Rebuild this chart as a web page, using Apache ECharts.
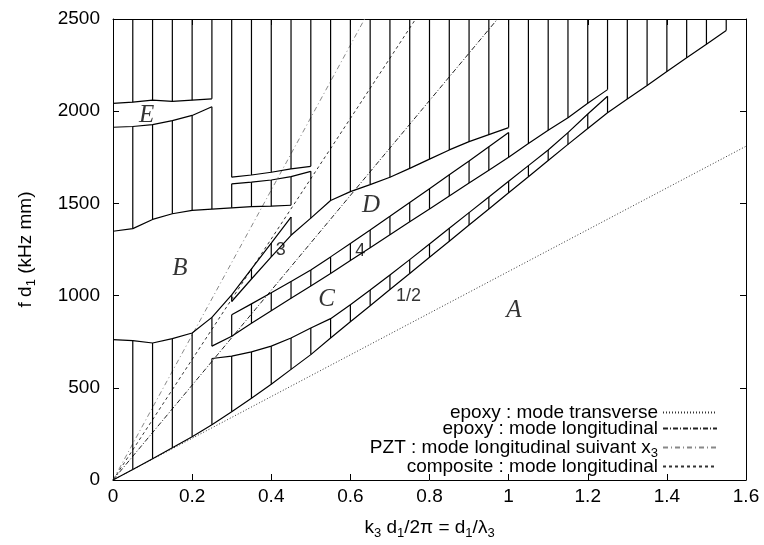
<!DOCTYPE html>
<html><head><meta charset="utf-8">
<script src="https://cdn.jsdelivr.net/npm/echarts@6/dist/echarts.min.js"></script>
<style>html,body{margin:0;padding:0;background:#fff}#c{width:764px;height:545px}</style>
</head><body><div id="c"></div>
<script>
// ---------- data ----------
const STEP = 0.05;          // spacing of the computed points along each boundary
const TOP = 2500;           // y-axis maximum
const xTicks = [0, 0.2, 0.4, 0.6, 0.8, 1, 1.2, 1.4, 1.6];
const yTicks = [0, 500, 1000, 1500, 2000, 2500];

// band boundaries: first x, then y values every 0.05
const L0 = {x0: 0,    y: [0,57,115,175,235,300,370,443,519,600,680,770,858,945,1033,1120,1208,1295,1383,1470,1558,1645,1733,1820,1906,1992,2066,2140,2215,2290,2363,2437]};
const Cb = {x0: 0.25, y: [659,672,695,726,770,824,875,950,1030,1112,1195,1280,1365,1450,1535,1620,1705,1790,1884,1985,2081]};
const Ct = {x0: 0.25, y: [726,780,850,918,985,1052,1120,1190,1260,1330,1400,1470,1540,1610,1680,1750,1825,1897,1965,2043,2117]};
const Db = {x0: 0.3,  y: [896,955,1015,1077,1139,1210,1283,1356,1430,1505,1580,1655,1730,1807,1884]};
const Dt = {x0: 0.3,  y: [968,1090,1210,1327,1420,1516,1564,1602,1642,1690,1740,1790,1835,1873,1911]};
const St = {x0: 0.25, y: [882,1004,1145,1285,1426]};
const Bb = {x0: 0,    y: [761,756,743,767,797,882]};
const Bt = {x0: 0,    y: [1349,1363,1413,1444,1462,1469,1476,1482,1485,1490]};
const Eb = {x0: 0,    y: [1913,1917,1927,1949,1977,2024]};
const Et = {x0: 0,    y: [2042,2049,2060,2053,2060,2067]};
const Gb = {x0: 0.3,  y: [1606,1615,1627,1645,1674]};
const Gt = {x0: 0.3,  y: [1642,1654,1669,1687,1701]};

// hatched (stop) bands: lower boundary, upper boundary, first and last hatch x
const bands = [
  ['L0','Bb',0,0.2], ['L0','Cb',0.25,1.25], ['Ct','St',0.25,0.25], ['Ct','Db',0.3,1.0],
  ['Dt','St',0.3,0.45], ['Bt','Eb',0,0.25], ['Et','TOP',0,0.25], ['Bt','Gb',0.3,0.45],
  ['Gt','TOP',0.3,0.5], ['Dt','Gb',0.5,0.5], ['Dt','TOP',0.55,1.0], ['Ct','TOP',1.05,1.25],
  ['L0','TOP',1.3,1.55]
];

// straight reference lines (from origin)
const epoxyT = [[0,0],[1.6,1810]];
const epoxyL = [[0,0],[0.972,2500]];
const pztL   = [[0,0],[0.636,2500]];
const compL  = [[0,0],[0.765,2500]];

// region letters and band numbers
const letters = [['E',0.085,1977],['B',0.169,1148],['C',0.540,977],['D',0.652,1487],['A',1.013,921]];
const numbers = [['3',0.424,1245],['4',0.625,1242],['1/2',0.747,997]];

// ---------- build ----------
const curves = {L0,Cb,Ct,Db,Dt,St,Bb,Bt,Eb,Et,Gb,Gt};
function val(name, x){
  if (name === 'TOP') return TOP;
  const c = curves[name];
  return c.y[Math.round((x - c.x0)/STEP)];
}
function pts(c){ return c.y.map((v,i)=>[+(c.x0 + i*STEP).toFixed(2), v]); }

const hatch = [];
bands.forEach(([lo,hi,a,b])=>{
  const n = Math.round((b-a)/STEP);
  for(let i=0;i<=n;i++){ const x = +(a+i*STEP).toFixed(2); hatch.push([x, val(lo,x), val(hi,x)]); }
});

const FONT = 'Liberation Sans';
const subRich = {s:{fontSize:13, padding:[12,0,0,0], lineHeight:19, fontFamily:FONT, color:'#000'}};

const series = [];
Object.keys(curves).forEach(k=>{
  series.push({type:'line', data:pts(curves[k]), symbol:'none', silent:true,
    lineStyle:{color:'#000', width:1.2}, z:3});
});
series.push({type:'custom', data:hatch, encode:{x:0,y:[1,2]}, silent:true, clip:true, z:3,
  renderItem:(params, api)=>{
    const p1 = api.coord([api.value(0), api.value(1)]);
    const p2 = api.coord([api.value(0), api.value(2)]);
    return {type:'line', shape:{x1:p1[0],y1:p1[1],x2:p2[0],y2:p2[1]}, style:{stroke:'#000', lineWidth:1.2}};
  }});
const refStyle = [
  ['epoxy : mode transverse', epoxyT, {color:'#333', width:1, type:[1,2]}],
  ['epoxy : mode longitudinal', epoxyL, {color:'#222', width:1, type:[5,2,1,2]}],
  ['PZT : mode longitudinal suivant x3', pztL, {color:'#888', width:1, type:[5,3,1,3]}],
  ['composite : mode longitudinal', compL, {color:'#333', width:1, type:[3,3]}]
];
refStyle.forEach(([name,data,ls])=>{
  series.push({name, type:'line', data, symbol:'none', showSymbol:false, silent:true,
    lineStyle:ls, itemStyle:{color:ls.color, opacity:0}, z:2});
});
series.push({type:'scatter', silent:true, symbolSize:0, z:5,
  data: letters.map(([t,x,y])=>({value:[x,y], name:t})),
  label:{show:true, position:'inside', formatter:p=>p.name,
    fontFamily:'Liberation Serif', fontStyle:'italic', fontSize:25, color:'#000'}});
series.push({type:'scatter', silent:true, symbolSize:0, z:5,
  data: numbers.map(([t,x,y])=>({value:[x,y], name:t})),
  label:{show:true, position:'inside', formatter:p=>p.name,
    fontFamily:FONT, fontSize:18, color:'#000'}});

const axisCommon = {
  axisLine:{show:true, onZero:false, lineStyle:{color:'#000', width:1}},
  axisTick:{show:true, inside:true, length:6, lineStyle:{color:'#000'}},
  splitLine:{show:false}
};
const chart = echarts.init(document.getElementById('c'), null, {renderer:'canvas'});
chart.setOption({
  animation:false,
  backgroundColor:'#fff',
  grid:{left:113, right:18, top:19, bottom:62},
  xAxis:[
    Object.assign({type:'value', min:0, max:1.6, interval:0.2, position:'bottom',
      axisLabel:{fontFamily:FONT, fontSize:19, color:'#000', margin:7,
        formatter:v=>String(xTicks.find(t=>Math.abs(t-v)<1e-6) ?? v)},
      name:'k{s|3} d{s|1}/2π = d{s|1}/λ{s|3}', nameLocation:'middle', nameGap:38,
      nameTextStyle:{fontFamily:FONT, fontSize:19, color:'#000', rich:subRich}}, axisCommon),
    Object.assign({type:'value', min:0, max:1.6, interval:0.2, position:'top', axisLabel:{show:false}}, axisCommon)
  ],
  yAxis:[
    Object.assign({type:'value', min:0, max:2500, interval:500, position:'left',
      axisLabel:{fontFamily:FONT, fontSize:19, color:'#000', margin:13,
        formatter:v=>String(yTicks.find(t=>Math.abs(t-v)<1e-6) ?? v)},
      name:'f d{s|1} (kHz mm)', nameLocation:'middle', nameGap:78,
      nameTextStyle:{fontFamily:FONT, fontSize:19, color:'#000', rich:subRich}}, axisCommon),
    Object.assign({type:'value', min:0, max:2500, interval:500, position:'right', axisLabel:{show:false}}, axisCommon)
  ],
  legend:{
    orient:'vertical', align:'right', right:41, top:398,
    itemWidth:54, itemHeight:10, itemGap:-3,
    data: refStyle.map(r=>r[0]),
    formatter: n => n.endsWith('x3') ? n.slice(0,-1) + '{s|3}' : n,
    textStyle:{fontFamily:FONT, fontSize:19, lineHeight:19, color:'#000', rich:subRich},
    itemStyle:{opacity:0},
    selectedMode:false
  },
  series
});
</script></body></html>
